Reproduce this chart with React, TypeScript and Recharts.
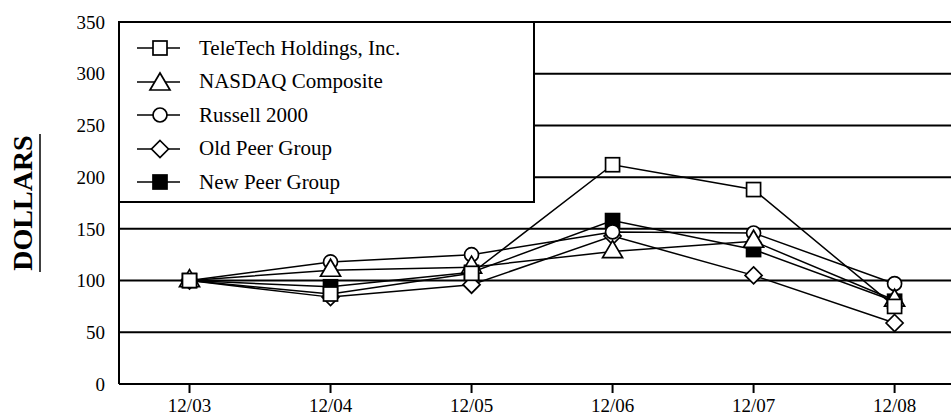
import { CartesianGrid, Line, LineChart, XAxis, YAxis } from "recharts";

const categories = ["12/03", "12/04", "12/05", "12/06", "12/07", "12/08"];
const teletech = [100, 87, 107, 212, 188, 75];
const nasdaq = [100, 110, 113, 128, 138, 81];
const russell = [100, 118, 125, 147, 146, 97];
const oldPeer = [100, 84, 96, 143, 105, 59];
const newPeer = [100, 94, 108, 158, 130, 80];
const yTicks = [0, 50, 100, 150, 200, 250, 300, 350];

const seriesList = [
  { key: "newPeer", name: "New Peer Group", kind: "filled", values: newPeer },
  { key: "oldPeer", name: "Old Peer Group", kind: "diamond", values: oldPeer },
  { key: "russell", name: "Russell 2000", kind: "circle", values: russell },
  { key: "nasdaq", name: "NASDAQ Composite", kind: "triangle", values: nasdaq },
  { key: "teletech", name: "TeleTech Holdings, Inc.", kind: "square", values: teletech },
];
const legendOrder = ["teletech", "nasdaq", "russell", "oldPeer", "newPeer"];

const data = categories.map((c, i) => {
  const row: Record<string, number | string> = { i, label: c };
  seriesList.forEach((s) => (row[s.key] = s.values[i]));
  return row;
});

const FONT = '"Liberation Serif", "Times New Roman", serif';

function Marker({ kind, cx, cy }: { kind: string; cx: number; cy: number }) {
  const st = { stroke: "#000", strokeWidth: 1.7 };
  if (kind === "square" || kind === "filled")
    return <rect x={cx - 7} y={cy - 7} width={14} height={14} fill={kind === "filled" ? "#000" : "#fff"} {...st} />;
  if (kind === "circle") return <circle cx={cx} cy={cy} r={7} fill="#fff" {...st} />;
  if (kind === "triangle")
    return <polygon points={`${cx},${cy - 11} ${cx - 10},${cy + 6} ${cx + 10},${cy + 6}`} fill="#fff" {...st} />;
  return <polygon points={`${cx},${cy - 8.5} ${cx + 8.5},${cy} ${cx},${cy + 8.5} ${cx - 8.5},${cy}`} fill="#fff" {...st} />;
}

function DollarsLabel(props: any) {
  const vb = props.viewBox || { x: 0, y: 22, height: 362 };
  const cx = 22;
  const cy = vb.y + vb.height / 2;
  return <g>
    <text x={cx} y={cy} transform={`rotate(-90 ${cx} ${cy})`} textAnchor="middle" dominantBaseline="central"
      fontFamily={FONT} fontWeight="bold" fontSize={28} fill="#000">DOLLARS</text>
    <line x1={40} x2={40} y1={cy - 69} y2={cy + 69} stroke="#000" strokeWidth={1.5} />
  </g>;
}

function LegendBox() {
  return <div style={{ position: "absolute", left: 118, top: 21, width: 413, height: 178, background: "#fff",
    border: "2px solid #000", fontFamily: FONT, fontSize: 21 }}>
    {legendOrder.map((k, idx) => {
      const s = seriesList.find((x) => x.key === k)!;
      return <div key={k} style={{ position: "absolute", left: 0, top: 11 + idx * 33.5, height: 28, display: "flex", alignItems: "center" }}>
        <svg width={79} height={28} style={{ display: "block" }}>
          <line x1={17} x2={60} y1={14} y2={14} stroke="#000" strokeWidth={1.5} />
          <Marker kind={s.kind} cx={40} cy={s.kind === "triangle" ? 16 : 14} />
        </svg>
        <span>{s.name}</span>
      </div>;
    })}
  </div>;
}

export default function App() {
  return <div style={{ position: "relative", width: 951, height: 416, background: "#fff" }}>
    <style>{`body{margin:0;overflow:hidden}`}</style>
    <LineChart width={951} height={416} data={data} margin={{ top: 22, right: 0, bottom: 2, left: 0 }}>
      <CartesianGrid vertical={false} stroke="#000" strokeWidth={2} />
      <XAxis dataKey="i" type="number" domain={[-0.5, 5.4]} ticks={[0, 1, 2, 3, 4, 5]} height={30}
        tickFormatter={(v: number) => categories[v]} axisLine={{ stroke: "#000", strokeWidth: 2 }}
        tickLine={{ stroke: "#000", strokeWidth: 2 }} tickSize={9} tickMargin={6}
        tick={{ fill: "#000", fontSize: 19, fontFamily: FONT }} />
      <YAxis domain={[0, 350]} ticks={yTicks} width={119} axisLine={{ stroke: "#000", strokeWidth: 2 }}
        tickLine={false} tickSize={6} tickMargin={8} tick={{ fill: "#000", fontSize: 19, fontFamily: FONT }}
        label={{ value: "DOLLARS", content: DollarsLabel }} />
      {seriesList.map((s) => <Line key={s.key} dataKey={s.key} name={s.name} type="linear" stroke="#000" strokeWidth={1.5}
        isAnimationActive={false} activeDot={false}
        dot={(p: any) => <Marker key={`${s.key}-${p.index}`} kind={s.kind} cx={p.cx} cy={p.cy} />} />)}
    </LineChart>
    <LegendBox />
  </div>;
}
